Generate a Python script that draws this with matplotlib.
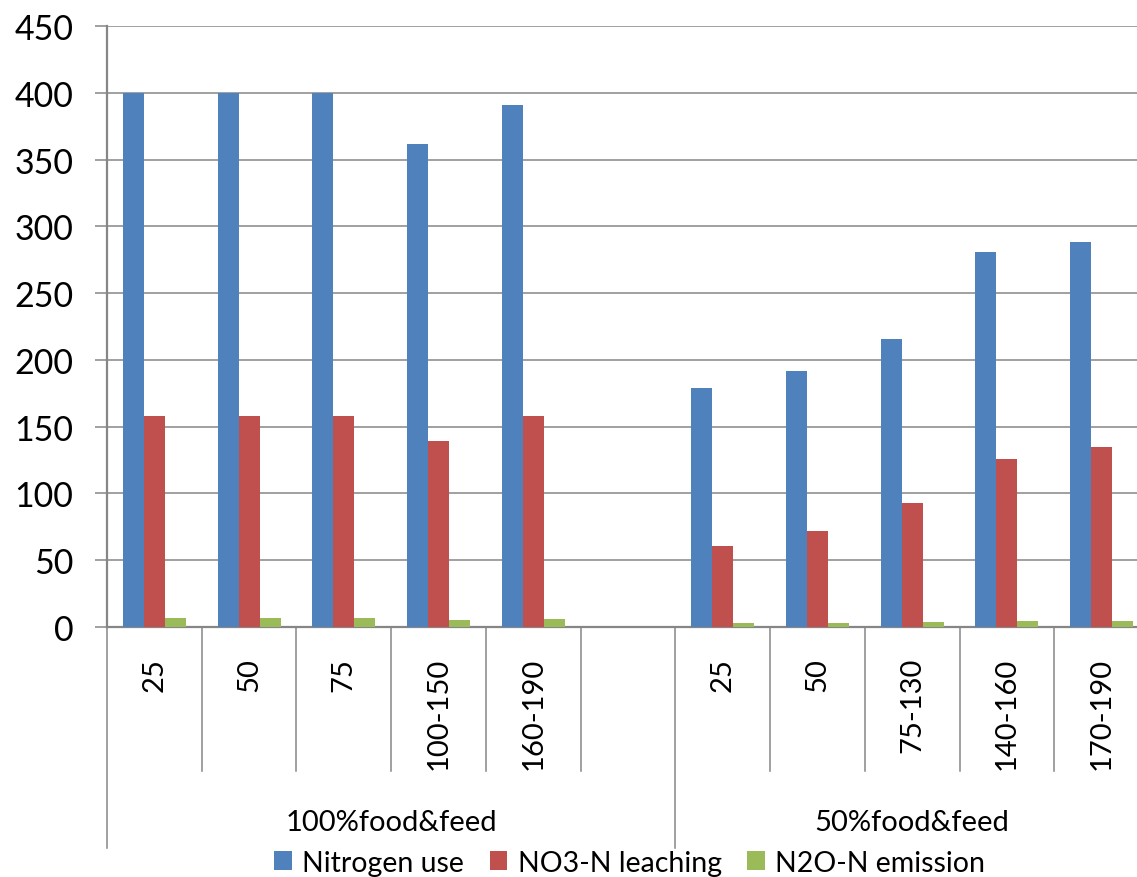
import matplotlib
matplotlib.use("Agg")
import numpy as np
import matplotlib.pyplot as plt
from matplotlib.patches import Patch

plt.rcParams["font.family"] = ["Lato", "DejaVu Sans"]

# categories along the bottom axis (inner level) and their groups (outer level)
categories = ["25", "50", "75", "100-150", "160-190", "",
              "25", "50", "75-130", "140-160", "170-190"]
groups = ["100%food&feed", "50%food&feed"]
group_spans = [(0, 6), (6, 11)]

series_names = ["Nitrogen use", "NO3-N leaching", "N2O-N emission"]
nitrogen_use = [400, 400, 400, 362, 391, np.nan, 179, 192, 216, 281, 288]
no3_leaching = [158, 158, 158, 139, 158, np.nan, 61, 72, 93, 126, 135]
n2o_emission = [6.5, 6.5, 6.5, 5.5, 6.3, np.nan, 3.0, 3.0, 3.7, 4.5, 4.5]

colors = ["#4F81BD", "#C0504D", "#9BBB59"]
GRID = "#868686"

fig = plt.figure(figsize=(11.37, 8.78), dpi=100)
ax = fig.add_axes([107 / 1137, 1 - 628 / 878, 1042 / 1137, 601 / 878])

n = len(categories)
centers = np.arange(n) + 0.5
w = 1 / 4.5  # Excel gap width 150 %
for k, vals in enumerate([nitrogen_use, no3_leaching, n2o_emission]):
    ax.bar(centers + (k - 1) * w, vals, width=w, color=colors[k], zorder=3)

ax.set_xlim(0, n)
ax.set_ylim(0, 450)
ax.set_yticks(np.arange(0, 451, 50))
ax.yaxis.grid(True, color=GRID, linewidth=1.1, zorder=0)
ax.tick_params(axis="y", direction="out", length=8.6, width=1.1, color=GRID,
               pad=15.5, labelsize=24.5)
ax.set_xticks([])
for side in ["top", "right"]:
    ax.spines[side].set_visible(False)
for side in ["left", "bottom"]:
    ax.spines[side].set_color(GRID)
    ax.spines[side].set_linewidth(1.6)

# two-level category axis drawn below the plot
tr = ax.get_xaxis_transform()
inner_bottom = (628 - 772) / 601
outer_bottom = (628 - 849) / 601
for i in range(n + 1):
    yb = outer_bottom if i in (0, 6, n) else inner_bottom
    ax.plot([i, i], [0, yb], color=GRID, linewidth=1.1, transform=tr, clip_on=False)

for c, lab in zip(centers, categories):
    ax.text(c, (628 - 658) / 601, lab, rotation=90, ha="center", va="top",
            fontsize=21, transform=tr)

for g, (a, b) in zip(groups, group_spans):
    ax.text((a + b) / 2, (628 - 823) / 601, g, ha="center", va="center",
            fontsize=21, transform=tr)

handles = [Patch(facecolor=c, edgecolor="none") for c in colors]
fig.legend(handles, series_names, loc="center", bbox_to_anchor=(0.554, 0.0165),
           ncol=3, frameon=False, fontsize=20.5, handlelength=0.62, handleheight=0.62,
           handletextpad=0.36, columnspacing=0.9, borderpad=0, borderaxespad=0)

fig.savefig("out.png", dpi=100)
